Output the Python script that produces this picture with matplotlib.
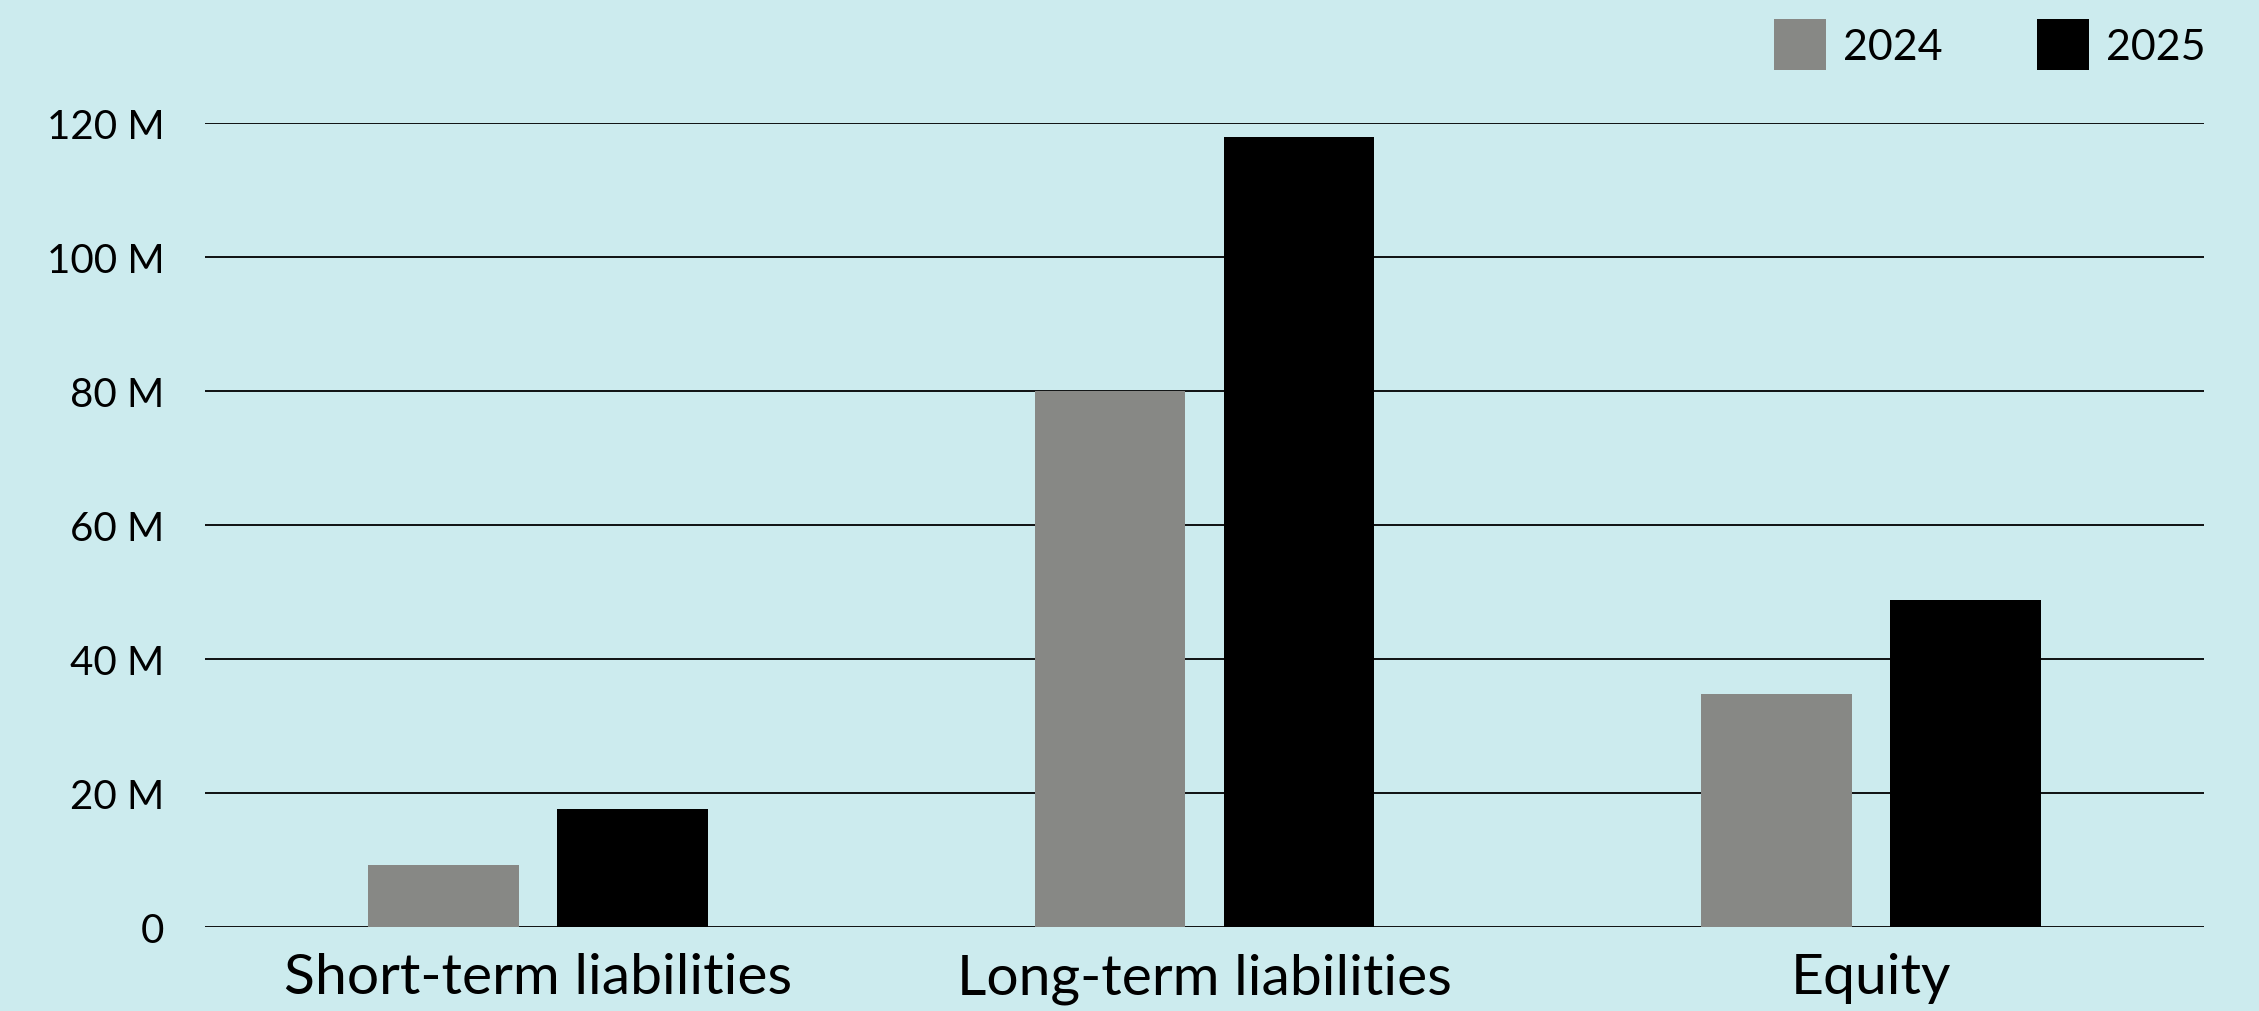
import numpy as np
import matplotlib
matplotlib.use("Agg")
import matplotlib.pyplot as plt
from matplotlib.patches import Patch

# Datos del gráfico (millones)
categories = ["Short-term liabilities", "Long-term liabilities", "Equity"]
years = ["2024", "2025"]
values_2024 = [9.3, 80.0, 34.8]
values_2025 = [17.6, 118.0, 48.9]
y_ticks = [0, 20, 40, 60, 80, 100, 120]
y_tick_labels = ["0", "20 M", "40 M", "60 M", "80 M", "100 M", "120 M"]

# Estilo
bg = "#CCEBEE"
col_2024 = "#878885"
col_2025 = "#000000"
plt.rcParams["font.family"] = ["Lato", "DejaVu Sans"]

fig = plt.figure(figsize=(22.59, 10.12), dpi=100, facecolor=bg)
ax = fig.add_axes([0.0907, 0.0827, 0.885, 0.7945])
ax.set_facecolor(bg)

x = np.arange(len(categories))
width = 0.226
offset = 0.142
ax.bar(x - offset, values_2024, width, color=col_2024, zorder=3)
ax.bar(x + offset, values_2025, width, color=col_2025, zorder=3)

ax.set_xlim(-0.5, 2.5)
ax.set_ylim(0, 120)
ax.set_yticks(y_ticks)
ax.set_yticklabels(y_tick_labels, fontsize=29)
ax.set_xticks(x)
ax.set_xticklabels(categories, fontsize=41)
ax.tick_params(axis="y", length=0, pad=29)
ax.tick_params(axis="x", length=0, pad=18)
ax.grid(axis="y", color="black", linewidth=1.3, zorder=0)
for s in ax.spines.values():
    s.set_visible(False)

# Leyenda
handles = [Patch(facecolor=col_2024), Patch(facecolor=col_2025)]
fig.legend(handles, years, loc="upper right", bbox_to_anchor=(2206 / 2259, 1 - 20 / 1012),
           ncol=2, frameon=False, fontsize=31, handlelength=1.2, handleheight=1.45,
           handletextpad=0.4, columnspacing=2.2, borderpad=0, borderaxespad=0)

fig.savefig("out.png", dpi=100, facecolor=bg)
